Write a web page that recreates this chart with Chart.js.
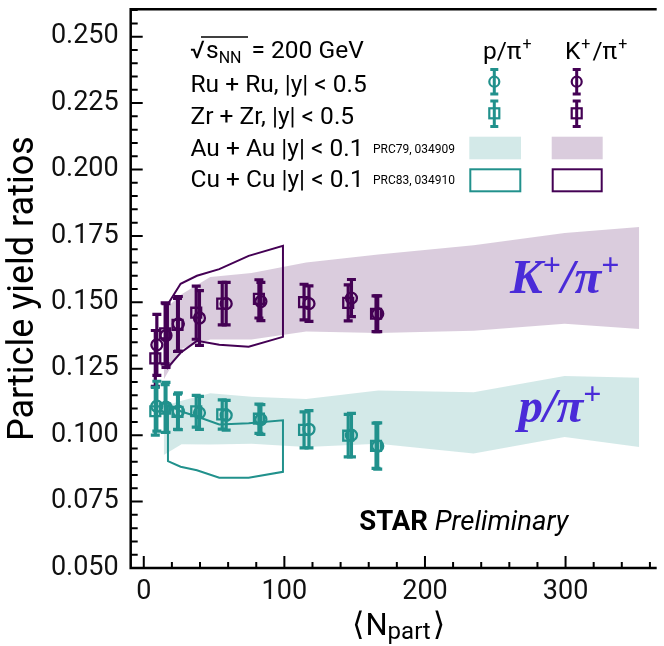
<!DOCTYPE html>
<html>
<head>
<meta charset="utf-8">
<script src="https://cdn.jsdelivr.net/npm/chart.js@4.4.1/dist/chart.umd.min.js"></script>
<style>
  html, body { margin: 0; padding: 0; background: #fff; overflow: hidden; }
</style>
</head>
<body>
<canvas id="ratioChart" width="664" height="646"></canvas>
<script>
// Ru+Ru (circles) and Zr+Zr (squares), |y| < 0.5
const ruNpart = [9.3, 15.8, 24.6, 39.6, 58.6, 83.3, 117.5, 147.7, 166.4];
const zrNpart = [8.2, 15.2, 24.0, 37.3, 55.8, 81.9, 114.0, 145.4, 165.2];
const ruKpi = [0.1340, 0.1375, 0.1419, 0.1441, 0.1495, 0.1503, 0.1495, 0.1516, 0.1457];
const zrKpi = [0.1289, 0.1383, 0.1415, 0.1461, 0.1495, 0.1513, 0.1501, 0.1498, 0.1457];
const ruKpiErr = [0.0115, 0.0120, 0.0103, 0.0103, 0.0080, 0.0072, 0.0067, 0.0070, 0.0067];
const zrKpiErr = [0.0105, 0.0115, 0.0100, 0.0100, 0.0080, 0.0072, 0.0067, 0.0068, 0.0067];
const ruPpi = [0.1109, 0.1105, 0.1090, 0.1084, 0.1075, 0.1059, 0.1022, 0.1000, 0.0959];
const zrPpi = [0.1090, 0.1100, 0.1088, 0.1090, 0.1078, 0.1062, 0.1020, 0.0998, 0.0960];
const ruPpiErr = [0.0094, 0.0094, 0.0069, 0.0062, 0.0056, 0.0056, 0.0070, 0.0082, 0.0087];
const zrPpiErr = [0.0090, 0.0090, 0.0066, 0.0060, 0.0055, 0.0055, 0.0068, 0.0080, 0.0085];

// Au+Au |y| < 0.1 (PRC79, 034909) bands
const auNpart = [14.2, 26.9, 47.3, 76.6, 115.5, 166.7, 234.6, 299.3, 352.4];
const auKpiHigh = [0.147, 0.153, 0.1595, 0.161, 0.165, 0.168, 0.1715, 0.1761, 0.1784];
const auKpiLow = [0.121, 0.1325, 0.136, 0.136, 0.139, 0.1385, 0.1393, 0.1419, 0.140];
const auPpiHigh = [0.111, 0.113, 0.1158, 0.1145, 0.1136, 0.1168, 0.1162, 0.1223, 0.1216];
const auPpiLow = [0.0925, 0.0966, 0.0965, 0.0968, 0.0955, 0.0968, 0.0931, 0.0993, 0.0955];

// Cu+Cu |y| < 0.1 (PRC83, 034910) outlines
const cuNpart = [17.2, 26.2, 37.8, 53.7, 74.6, 99.0];
const cuKpiHigh = [0.1494, 0.157, 0.160, 0.1625, 0.1675, 0.1713];
const cuKpiLow = [0.1255, 0.131, 0.1355, 0.134, 0.1333, 0.137];
const cuPpiHigh = [0.1115, 0.109, 0.107, 0.104, 0.1045, 0.1056];
const cuPpiLow = [0.0902, 0.0881, 0.0868, 0.084, 0.084, 0.0862];

const xMajorTicks = [0, 100, 200, 300];
const yMajorTicks = [0.050, 0.075, 0.100, 0.125, 0.150, 0.175, 0.200, 0.225, 0.250];

const X_MIN = -9.3, X_MAX = 363.4;
const Y_MIN = 0.05, Y_MAX = 0.2603;

const TEAL = '#21918c';
const PURPLE = '#440154';
const TEAL_BAND = 'rgba(33,145,140,0.2)';
const PURPLE_BAND = 'rgba(68,1,84,0.2)';
const LABEL_BLUE = '#4a2bd8';
const SANS = 'Roboto, "Noto Sans", sans-serif';

function pts(xs, ys) {
    return xs.map((x, i) => ({ x: x, y: ys[i] }));
}

// closed contour: upper edge left->right, lower edge right->left
function outline(xs, hi, lo) {
    const p = pts(xs, hi);
    for (let i = xs.length - 1; i >= 0; i--) p.push({ x: xs[i], y: lo[i] });
    p.push({ x: xs[0], y: hi[0] });
    return p;
}

function band(data, color, fillTo) {
    return {
        type: 'line', data: data, fill: fillTo, backgroundColor: color,
        borderColor: 'transparent', borderWidth: 0, pointRadius: 0, tension: 0, order: 5
    };
}

function contour(data, color) {
    return {
        type: 'line', data: data, fill: false, borderColor: color, borderWidth: 2,
        pointRadius: 0, tension: 0, order: 3
    };
}

function markers(data, color, style, radius) {
    return {
        type: 'scatter', data: data, pointStyle: style, pointRadius: radius,
        borderColor: color, backgroundColor: 'rgba(0,0,0,0)', pointBorderWidth: 2.3, order: 1
    };
}

const errorSeries = [
    { xs: ruNpart, ys: ruKpi, err: ruKpiErr, color: PURPLE },
    { xs: zrNpart, ys: zrKpi, err: zrKpiErr, color: PURPLE },
    { xs: ruNpart, ys: ruPpi, err: ruPpiErr, color: TEAL },
    { xs: zrNpart, ys: zrPpi, err: zrPpiErr, color: TEAL }
];

function drawRuns(ctx, x, y, runs, color) {
    ctx.fillStyle = color;
    ctx.textAlign = 'left';
    ctx.textBaseline = 'alphabetic';
    let cx = x;
    for (const r of runs) {
        ctx.font = r.font;
        ctx.fillText(r.t, cx + (r.dx || 0), y + (r.dy || 0));
        cx += ctx.measureText(r.t).width + (r.dx || 0);
    }
    return cx;
}

function errBar(ctx, px, top, bottom, cap) {
    ctx.beginPath();
    ctx.moveTo(px, top); ctx.lineTo(px, bottom);
    ctx.moveTo(px - cap, top); ctx.lineTo(px + cap, top);
    ctx.moveTo(px - cap, bottom); ctx.lineTo(px + cap, bottom);
    ctx.stroke();
}

const errorBars = {
    id: 'errorBars',
    afterDatasetsDraw(chart) {
        const { ctx, scales: { x, y } } = chart;
        ctx.save();
        ctx.lineWidth = 3.2;
        errorSeries.forEach(s => {
            ctx.strokeStyle = s.color;
            s.xs.forEach((v, i) => {
                errBar(ctx, x.getPixelForValue(v), y.getPixelForValue(s.ys[i] + s.err[i]),
                    y.getPixelForValue(s.ys[i] - s.err[i]), 4.5);
            });
        });
        ctx.restore();
    }
};

const frameAndExtras = {
    id: 'frameAndExtras',
    afterDraw(chart) {
        const { ctx, chartArea: a, scales: { x, y } } = chart;
        ctx.save();
        ctx.strokeStyle = '#000';
        ctx.lineWidth = 2;
        ctx.beginPath();
        for (let k = 0; k * 20 <= X_MAX; k++) {
            const px = x.getPixelForValue(k * 20);
            const len = (k % 5 === 0) ? 12 : 6;
            ctx.moveTo(px, a.bottom); ctx.lineTo(px, a.bottom - len);
        }
        for (let k = 10; k * 0.005 <= Y_MAX; k++) {
            const py = y.getPixelForValue(k * 0.005);
            const len = (k % 5 === 0) ? 12 : 7;
            ctx.moveTo(a.left, py); ctx.lineTo(a.left + len, py);
        }
        ctx.stroke();

        ctx.lineWidth = 2.5;
        ctx.beginPath();
        ctx.moveTo(a.right + 2, a.top);
        ctx.lineTo(a.left, a.top);
        ctx.lineTo(a.left, a.bottom);
        ctx.lineTo(a.right + 2, a.bottom);
        ctx.stroke();

        // x axis title <N_part>
        drawRuns(ctx, 352, 635, [
            { t: '\u27E8', font: '32px "DejaVu Sans"' },
            { t: 'N', font: '31px ' + SANS, dx: 1 },
            { t: 'part', font: '24px ' + SANS, dy: 4 },
            { t: '\u27E9', font: '32px "DejaVu Sans"', dx: 2 }
        ], '#000');

        // legend
        const F = '24.5px ' + SANS;
        ctx.fillStyle = '#000';
        ctx.font = F;
        ctx.fillText('\u221A', 190, 58);
        ctx.lineWidth = 1.5;
        ctx.beginPath(); ctx.moveTo(201, 37); ctx.lineTo(248, 37); ctx.stroke();
        drawRuns(ctx, 206, 58, [
            { t: 's', font: F },
            { t: 'NN', font: '16px ' + SANS, dy: 5 },
            { t: ' = 200 GeV', font: F, dx: 4 }
        ], '#000');
        const rows = ['Ru + Ru, |y| < 0.5', 'Zr + Zr, |y| < 0.5', 'Au + Au |y| < 0.1', 'Cu + Cu |y| < 0.1'];
        const rowY = [91.5, 124, 156, 187];
        ctx.font = F;
        rows.forEach((r, i) => ctx.fillText(r, 190.5, rowY[i]));
        ctx.font = '12px ' + SANS;
        ctx.fillText('PRC79, 034909', 373, 152.5);
        ctx.fillText('PRC83, 034910', 373, 183.5);

        const SUP = '16px ' + SANS;
        drawRuns(ctx, 483, 59, [
            { t: 'p/\u03C0', font: F }, { t: '+', font: SUP, dy: -10, dx: 1 }
        ], '#000');
        drawRuns(ctx, 565, 59, [
            { t: 'K', font: F }, { t: '+', font: SUP, dy: -10, dx: 1 },
            { t: '/\u03C0', font: F, dx: 2 }, { t: '+', font: SUP, dy: -10, dx: 1 }
        ], '#000');

        [[494.3, TEAL], [576.7, PURPLE]].forEach(([lx, col]) => {
            ctx.strokeStyle = col;
            ctx.lineWidth = 3;
            errBar(ctx, lx, 69.5, 94, 4);
            errBar(ctx, lx, 101, 126.5, 4);
            ctx.lineWidth = 2.2;
            ctx.beginPath(); ctx.arc(lx, 81.7, 5, 0, Math.PI * 2); ctx.stroke();
            ctx.strokeRect(lx - 5, 108.3, 10, 10);
        });
        ctx.fillStyle = TEAL_BAND; ctx.fillRect(469.3, 136.7, 51.7, 22.6);
        ctx.fillStyle = PURPLE_BAND; ctx.fillRect(551.7, 136.7, 51, 22.6);
        ctx.lineWidth = 2;
        ctx.strokeStyle = TEAL; ctx.strokeRect(470.3, 169.3, 50, 22);
        ctx.strokeStyle = PURPLE; ctx.strokeRect(552.7, 169.3, 49, 22);

        // ratio labels
        const SERIF = '"Liberation Serif", "DejaVu Serif", serif';
        drawRuns(ctx, x.getPixelForValue(260.5), y.getPixelForValue(0.1534), [
            { t: 'K', font: 'italic bold 49px ' + SERIF },
            { t: '+', font: 'bold 32px ' + SERIF, dy: -18 },
            { t: '/\u03C0', font: 'italic bold 49px ' + SERIF },
            { t: '+', font: 'bold 32px ' + SERIF, dy: -18 }
        ], LABEL_BLUE);
        drawRuns(ctx, x.getPixelForValue(266.5), y.getPixelForValue(0.1051), [
            { t: 'p/\u03C0', font: 'italic bold 49px ' + SERIF },
            { t: '+', font: 'bold 32px ' + SERIF, dy: -18 }
        ], LABEL_BLUE);

        drawRuns(ctx, x.getPixelForValue(153.3), y.getPixelForValue(0.0642), [
            { t: 'STAR', font: 'bold 27.5px ' + SANS },
            { t: ' Preliminary', font: 'italic 27.5px ' + SANS }
        ], '#000');
        ctx.restore();
    }
};

new Chart(document.getElementById('ratioChart'), {
    type: 'scatter',
    data: {
        datasets: [
            markers(pts(ruNpart, ruKpi), PURPLE, 'circle', 5.5),
            markers(pts(zrNpart, zrKpi), PURPLE, 'rect', 7),
            markers(pts(ruNpart, ruPpi), TEAL, 'circle', 5.5),
            markers(pts(zrNpart, zrPpi), TEAL, 'rect', 7),
            contour(outline(cuNpart, cuKpiHigh, cuKpiLow), PURPLE),
            contour(outline(cuNpart, cuPpiHigh, cuPpiLow), TEAL),
            band(pts(auNpart, auKpiHigh), PURPLE_BAND, '+1'),
            band(pts(auNpart, auKpiLow), PURPLE_BAND, false),
            band(pts(auNpart, auPpiHigh), TEAL_BAND, '+1'),
            band(pts(auNpart, auPpiLow), TEAL_BAND, false)
        ]
    },
    options: {
        responsive: false,
        animation: false,
        devicePixelRatio: 1,
        layout: { padding: { top: 5, right: 0, left: 0, bottom: 0 } },
        plugins: { legend: { display: false }, tooltip: { enabled: false } },
        scales: {
            x: {
                type: 'linear', min: X_MIN, max: X_MAX,
                afterFit: s => { s.height = 78; s.paddingLeft = 0; s.paddingRight = 0; },
                afterBuildTicks: s => { s.ticks = xMajorTicks.map(v => ({ value: v })); },
                grid: { display: false, drawTicks: false },
                border: { display: false },
                ticks: {
                    font: { family: SANS, size: 27 }, color: '#111', padding: 8,
                    maxRotation: 0, autoSkip: false, callback: v => String(v)
                }
            },
            y: {
                type: 'linear', min: Y_MIN, max: Y_MAX,
                afterFit: s => { s.width = 130.7; s.paddingTop = 0; s.paddingBottom = 0; },
                afterBuildTicks: s => { s.ticks = yMajorTicks.map(v => ({ value: v })); },
                grid: { display: false, drawTicks: false },
                border: { display: false },
                ticks: {
                    font: { family: SANS, size: 27 }, color: '#111', padding: 12,
                    autoSkip: false, callback: v => v.toFixed(3)
                },
                title: {
                    display: true, text: 'Particle yield ratios', color: '#000',
                    font: { family: SANS, size: 36 }, padding: { top: 2, bottom: 0 }
                }
            }
        }
    },
    plugins: [errorBars, frameAndExtras]
});
</script>
</body>
</html>
